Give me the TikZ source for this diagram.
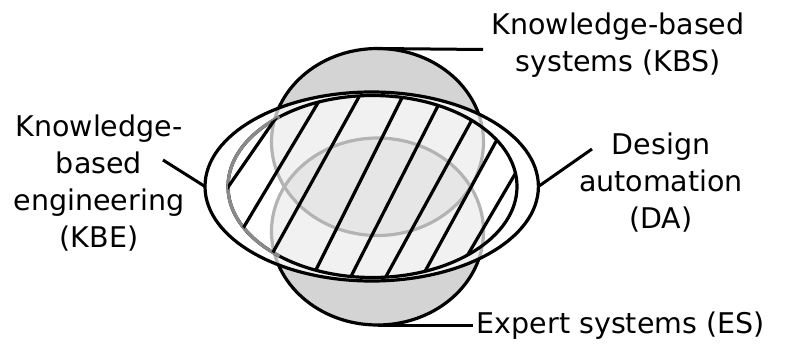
\documentclass[tikz,border=0pt]{standalone}
\usepackage{fontspec}
\setmainfont{DejaVu Sans}
\usetikzlibrary{shapes.geometric}
\definecolor{kbegrey}{HTML}{8A8A8A}
\begin{document}
\begin{tikzpicture}[x=1pt,y=-1pt,
  lbl/.style={font=\fontsize{28.5}{37}\selectfont, align=center, inner sep=0pt, anchor=base},
  ring/.style={ellipse, inner sep=0pt, outer sep=0pt, line width=3.2pt},
  conn/.style={line width=3pt},
  hatch/.style={line width=3.2pt, shorten <=-8pt, shorten >=-8pt}]
\useasboundingbox (0,0) rectangle (791,345);
% circles KBS (top) and ES (bottom)
\node[ring, draw=black, fill=black, fill opacity=0.17, draw opacity=1,
      minimum width=212, minimum height=187] (kbs) at (377.5,142) {};
\node[ring, draw=black, fill=black, fill opacity=0.17, draw opacity=1,
      minimum width=212, minimum height=187] (es) at (377.5,231.5) {};
% design automation ellipse
\node[ring, draw=black, fill=white, fill opacity=0.7, draw opacity=1,
      minimum width=333.4, minimum height=189] (da) at (371.7,186.5) {};
% KBE ellipse
\node[ring, draw=black, minimum width=289, minimum height=182] (kbe) at (372.5,186.5) {};
\draw[line width=3.2pt, color=kbegrey] (279.6,116.8)
  arc[start angle=130, end angle=230, x radius=144.5pt, y radius=91pt];
\begin{scope}
  \clip (372.5,186.5) ellipse [x radius=144.5, y radius=91];
  \draw[hatch] (228.3,186.7) -- (273.3,121.7);
  \draw[hatch] (245,225) -- (316.7,105);
  \draw[hatch] (273.3,251.7) -- (360,95);
  \draw[hatch] (316.7,268.3) -- (401.7,98.3);
  \draw[hatch] (350,278.3) -- (436.7,108.3);
  \draw[hatch] (385,278.3) -- (470,123.3);
  \draw[hatch] (426.7,268.3) -- (495,143.3);
  \draw[hatch] (470,251) -- (513.3,177);
\end{scope}
% labels (base anchor = baseline of last line)
\node[lbl] (kbsl) at (618,71.5) {Knowledge-based\\systems (KBS)};
\node[lbl] (kbel) at (99,247) {Knowledge-\\based\\engineering\\(KBE)};
\node[lbl] (dal) at (661,228.3) {Design\\automation\\(DA)};
\node[lbl, anchor=base west] (esl) at (476.7,333.3) {Expert systems (ES)};
% connectors
\coordinate (kbsend) at (483,49.5);
\coordinate (esend) at (473,325);
\coordinate (kbeend) at (163,160);
\coordinate (daend) at (592,149);
\draw[conn] (kbs.north) -- (kbsend);
\draw[conn] (es.south) -- (esend);
\draw[conn] (kbeend) -- (da.west);
\draw[conn] (da.east) -- (daend);
\end{tikzpicture}
\end{document}
